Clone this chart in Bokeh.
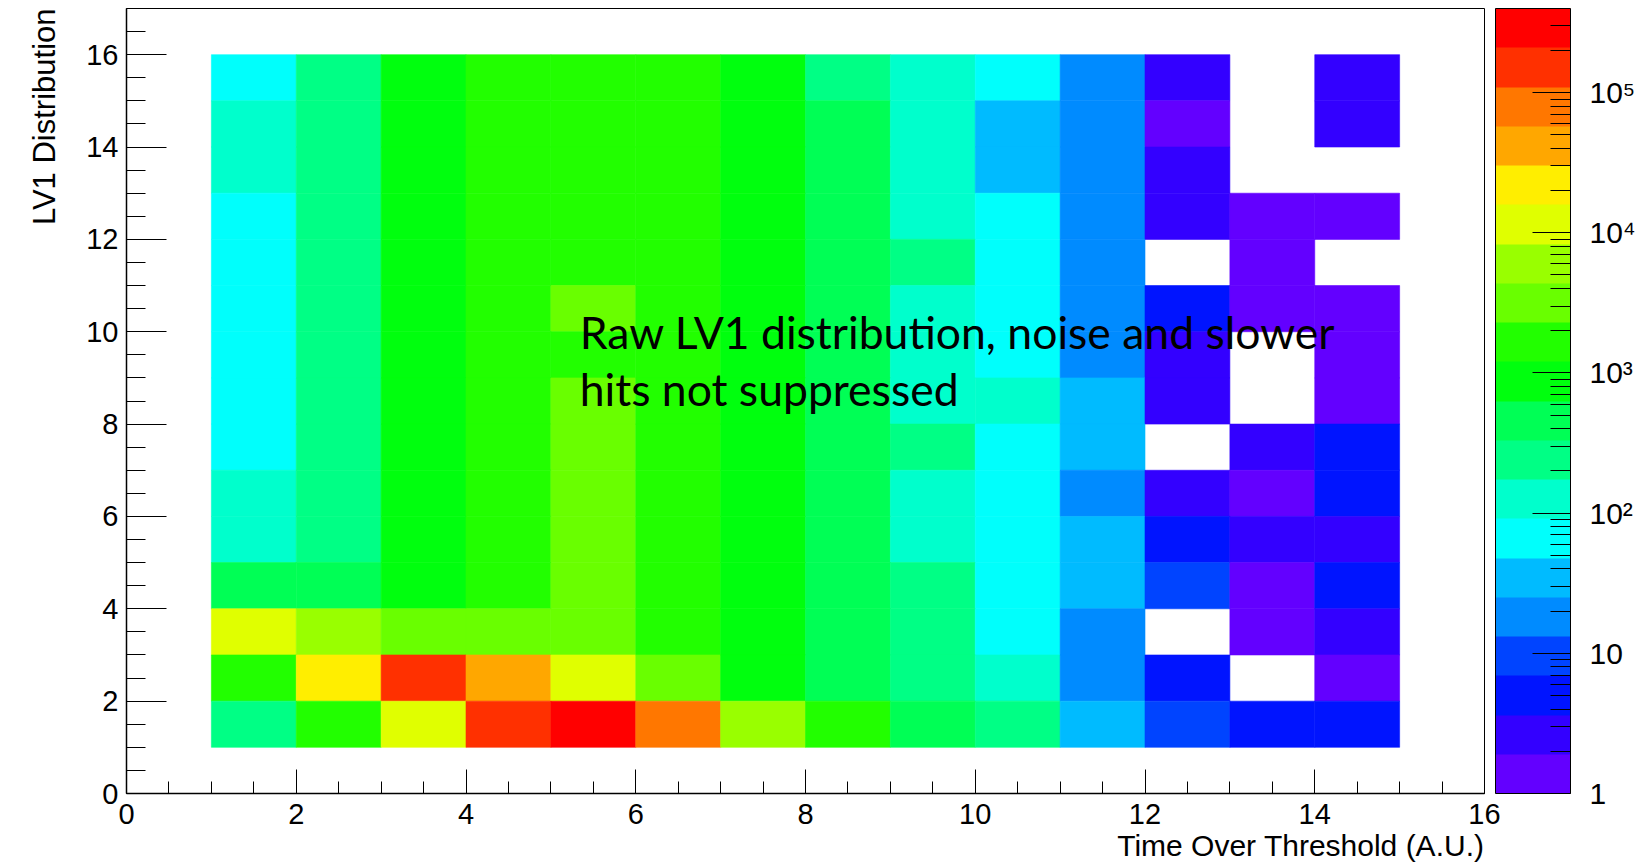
from bokeh.plotting import figure
from bokeh.models import (LogColorMapper, ColorBar, FixedTicker, SingleIntervalTicker,
                          Label, Title, ColumnDataSource)
from bokeh.embed import file_html
from bokeh.resources import INLINE

# ---------------- data ----------------
x_edges = [1, 2, 3, 4, 5, 6, 7, 8, 9, 10, 11, 12, 13, 14, 15]
y_edges = [1, 2, 3, 4, 5, 6, 7, 8, 9, 10, 11, 12, 13, 14, 15, 16]

# counts per bin, rows listed from the top bin (15-16) down to the bottom bin (1-2),
# columns from x bin 1-2 to x bin 14-15; 0 = empty bin (not drawn)
counts_top_down = [
    [65, 240, 870, 1660, 1660, 1660, 870, 240, 125, 65, 18, 3, 0, 3],
    [125, 240, 870, 1660, 1660, 1660, 870, 460, 125, 35, 18, 1, 0, 3],
    [125, 240, 870, 1660, 1660, 1660, 870, 460, 125, 35, 18, 3, 0, 0],
    [65, 240, 870, 1660, 1660, 1660, 870, 460, 125, 65, 18, 3, 1, 1],
    [65, 240, 870, 1660, 1660, 1660, 870, 460, 240, 65, 18, 0, 1, 0],
    [65, 240, 870, 1660, 3200, 1660, 870, 460, 125, 65, 18, 5, 1, 1],
    [65, 240, 870, 1660, 1660, 1660, 870, 460, 125, 65, 18, 3, 0, 1],
    [65, 240, 870, 1660, 3200, 1660, 870, 460, 125, 125, 35, 3, 0, 1],
    [65, 240, 870, 1660, 3200, 1660, 870, 460, 240, 65, 35, 0, 3, 5],
    [125, 240, 870, 1660, 3200, 1660, 870, 460, 125, 65, 18, 3, 1, 5],
    [125, 240, 870, 1660, 3200, 1660, 870, 460, 125, 65, 35, 5, 3, 3],
    [460, 460, 870, 1660, 3200, 1660, 870, 460, 240, 65, 35, 10, 1, 5],
    [11500, 6000, 3200, 3200, 3200, 1660, 870, 460, 240, 65, 18, 0, 1, 3],
    [1660, 22000, 150000, 42000, 11500, 3200, 870, 460, 240, 125, 18, 5, 0, 1],
    [240, 1660, 11500, 150000, 290000, 79000, 6000, 1660, 460, 240, 35, 10, 5, 5],
]

z_min = 1
z_max = 10 ** 5.6

palette = [
    "#6300FF", "#3300FF", "#0014FF", "#0044FF", "#008BFF",
    "#00BBFF", "#00FFFC", "#00FFCC", "#00FF85", "#00FF55",
    "#00FF0E", "#22FF00", "#69FF00", "#99FF00", "#E0FF00",
    "#FFEE00", "#FFA700", "#FF7700", "#FF3000", "#FF0000",
]

cbar_ticks = [1, 10, 100, 1000, 10000, 100000]
cbar_labels = ["1", "10", "10\u00b2", "10\u00b3", "10\u2074", "10\u2075"]
cbar_minor = [m * 10 ** k for k in range(0, 6) for m in range(2, 10) if m * 10 ** k < z_max]

x_title = "Time Over Threshold (A.U.)"
y_title = "LV1 Distribution"
note_lines = ["Raw LV1 distribution, noise and slower", "hits not suppressed"]

# ---------------- build ----------------
left, right, bottom, top, z = [], [], [], [], []
nrows = len(counts_top_down)
for i, row in enumerate(counts_top_down):
    j = nrows - 1 - i
    for k, c in enumerate(row):
        if c > 0:
            left.append(x_edges[k])
            right.append(x_edges[k + 1])
            bottom.append(y_edges[j])
            top.append(y_edges[j + 1])
            z.append(c)

src = ColumnDataSource(dict(left=left, right=right, bottom=bottom, top=top, z=z))
mapper = LogColorMapper(palette=palette, low=z_min, high=z_max)

FONT = "Liberation Sans"

p = figure(width=1640, height=866, x_range=(0, 16), y_range=(0, 17),
           output_backend="svg", toolbar_location=None,
           min_border_left=126, min_border_right=156, min_border_top=8, min_border_bottom=73)
p.grid.visible = False
p.outline_line_color = "black"
p.outline_line_width = 1
p.background_fill_color = "white"
p.border_fill_color = "white"

p.quad(left="left", right="right", bottom="bottom", top="top", source=src,
       fill_color={"field": "z", "transform": mapper},
       line_color={"field": "z", "transform": mapper}, line_width=0.6)

for ax, tin, tmin in ((p.xaxis[0], 24, 12), (p.yaxis[0], 40, 19)):
    ax.ticker = SingleIntervalTicker(interval=2, num_minor_ticks=4)
    ax.major_tick_in = tin
    ax.major_tick_out = 0
    ax.minor_tick_in = tmin
    ax.minor_tick_out = 0
    ax.major_tick_line_color = "black"
    ax.minor_tick_line_color = "black"
    ax.axis_line_color = "black"
    ax.axis_line_width = 1.5
    ax.major_label_text_font = FONT
    ax.major_label_text_font_size = "29px"
    ax.major_label_text_color = "black"

p.xaxis.major_label_standoff = 10
p.yaxis.major_label_standoff = 8

# axis titles as right-aligned titles in the side panels
p.add_layout(Title(text=x_title, align="right", text_font=FONT, text_font_size="30px",
                   text_font_style="normal", text_color="black", standoff=0, offset=0),
             "below")
p.add_layout(Title(text=y_title, align="right", text_font=FONT,
                   text_font_size="31px", text_font_style="normal", text_color="black",
                   standoff=44, offset=0),
             "left")

cb = ColorBar(color_mapper=mapper,
              ticker=FixedTicker(ticks=cbar_ticks, minor_ticks=cbar_minor),
              major_label_overrides=dict(zip(cbar_ticks, cbar_labels)),
              width=75, padding=0, margin=0, location=(11, 0),
              major_tick_in=38, major_tick_out=0, minor_tick_in=20, minor_tick_out=0,
              major_tick_line_color="black", minor_tick_line_color="black",
              bar_line_color="black", label_standoff=19,
              major_label_text_font=FONT, major_label_text_font_size="30px",
              major_label_text_color="black")
p.add_layout(cb, "right")

# annotation
note_x = 5.34
note_y = [10.0, 8.78]
for t, yy in zip(note_lines, note_y):
    p.add_layout(Label(x=note_x, y=yy, text=t, text_align="left", text_baseline="alphabetic",
                       text_font="Lato", text_font_size="44.5px", text_color="black"))

open("out.html", "w").write(file_html(p, INLINE))
